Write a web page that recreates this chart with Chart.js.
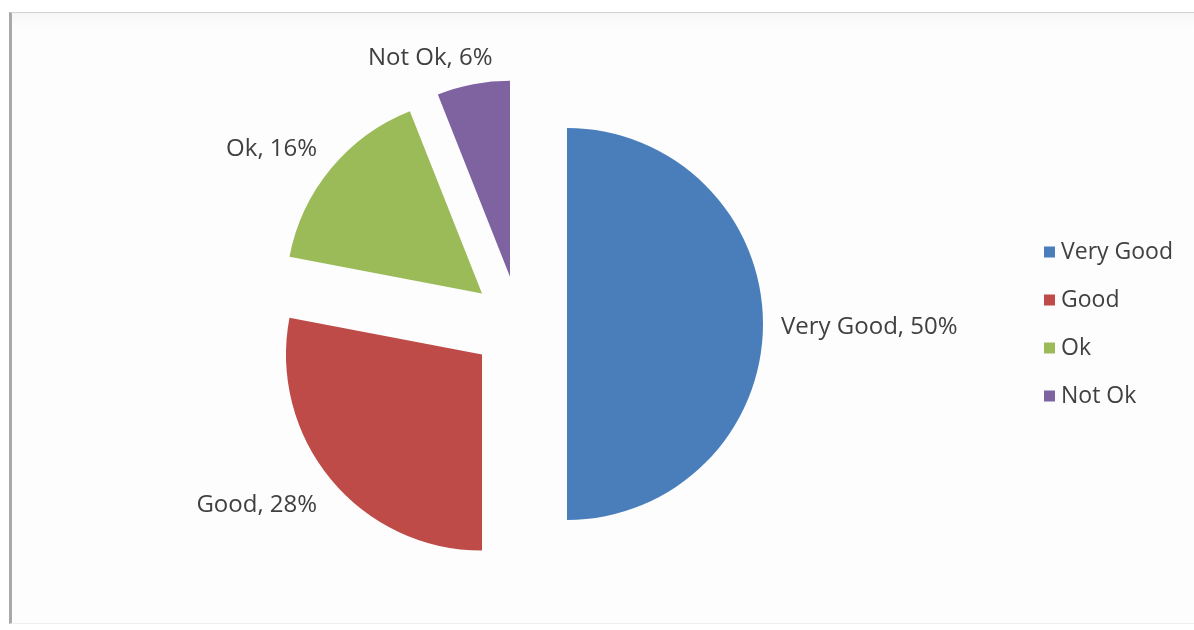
<!DOCTYPE html>
<html>
<head>
<meta charset="utf-8">
<script src="https://cdn.jsdelivr.net/npm/chart.js@4/dist/chart.umd.min.js"></script>
<style>
  html, body { margin: 0; padding: 0; background: #ffffff; }
  #wrap { position: relative; width: 1194px; height: 630px; overflow: hidden; }
  #frame {
    position: absolute; left: 9px; top: 12px; width: 1200px; height: 610px;
    border-left: 3px solid #a9a9a9; border-top: 1px solid #d2d2d2; border-bottom: 1px solid #f0f0f0;
    background: linear-gradient(#f6f6f6, #fdfdfd 14px, #fdfdfd);
  }
  #chart { position: absolute; left: 0; top: 0; }
</style>
</head>
<body>
<div id="wrap">
  <div id="frame"></div>
  <canvas id="chart" width="1194" height="630"></canvas>
</div>
<script>
// Survey answers and their shares (percent)
const categories = ['Very Good', 'Good', 'Ok', 'Not Ok'];
const shares = [50, 28, 16, 6];
const sliceColors = ['#4a7ebb', '#be4b48', '#9bbb59', '#7f63a1'];

const EXPLODE = 48;         // distance each slice is pulled out from the centre
const TEXT_COLOR = '#404040';
const FONT = '"Open Sans", "DejaVu Sans", sans-serif';

// Draw every slice pushed outward along its own mid angle
const explodedSlices = {
  id: 'explodedSlices',
  beforeDatasetsDraw(chart) {
    const ctx = chart.ctx;
    chart.getDatasetMeta(0).data.forEach(arc => {
      const mid = (arc.startAngle + arc.endAngle) / 2;
      ctx.save();
      ctx.translate(Math.cos(mid) * EXPLODE, Math.sin(mid) * EXPLODE);
      arc.draw(ctx);
      ctx.restore();
    });
    return false;
  }
};

// "Category, value%" labels just outside each exploded slice
const outsideLabels = {
  id: 'outsideLabels',
  afterDraw(chart) {
    const ctx = chart.ctx;
    const ds = chart.data.datasets[0];
    ctx.save();
    ctx.font = '24px ' + FONT;
    ctx.fillStyle = TEXT_COLOR;
    ctx.textBaseline = 'middle';
    ctx.textAlign = 'center';
    chart.getDatasetMeta(0).data.forEach((arc, i) => {
      const mid = (arc.startAngle + arc.endAngle) / 2;
      const dx = Math.cos(mid), dy = Math.sin(mid);
      const r = arc.outerRadius + EXPLODE + 18;
      const ax = arc.x + dx * r, ay = arc.y + dy * r;
      const text = chart.data.labels[i] + ', ' + ds.data[i] + '%';
      const w = ctx.measureText(text).width, h = 22;
      const cx = ax + (w / 2) * Math.max(-1, Math.min(1, dx * 3.4));
      const cy = ay + (h / 2) * Math.max(-1, Math.min(1, dy * 1.6)) + 3;
      ctx.fillText(text, cx, cy);
    });
    ctx.restore();
  }
};

// Legend column on the right
const sideLegend = {
  id: 'sideLegend',
  afterDraw(chart) {
    const ctx = chart.ctx;
    const ds = chart.data.datasets[0];
    ctx.save();
    ctx.font = '23px ' + FONT;
    ctx.textBaseline = 'middle';
    ctx.textAlign = 'left';
    chart.data.labels.forEach((lab, i) => {
      const y = 252 + i * 48;
      ctx.fillStyle = ds.backgroundColor[i];
      ctx.fillRect(1044, y - 5.5, 11, 11);
      ctx.fillStyle = TEXT_COLOR;
      ctx.fillText(lab, 1061, y);
    });
    ctx.restore();
  }
};

new Chart(document.getElementById('chart'), {
  type: 'pie',
  data: {
    labels: categories,
    datasets: [{
      data: shares,
      backgroundColor: sliceColors,
      borderWidth: 0,
      hoverOffset: 0
    }]
  },
  options: {
    responsive: false,
    animation: false,
    radius: 196,
    layout: { padding: { left: 0, right: 156, top: 18, bottom: 0 } },
    plugins: {
      legend: { display: false },
      tooltip: { enabled: false }
    },
    events: []
  },
  plugins: [explodedSlices, outsideLabels, sideLegend]
});
</script>
</body>
</html>
